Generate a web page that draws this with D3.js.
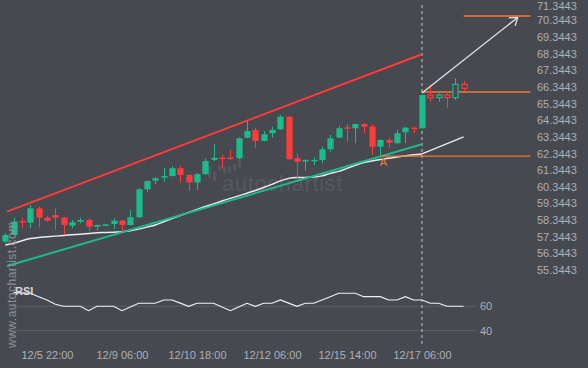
<!DOCTYPE html>
<html><head><meta charset="utf-8">
<script src="https://cdn.jsdelivr.net/npm/d3@7"></script>
<style>
html,body{margin:0;padding:0;background:#46494f;}
svg{display:block;}
</style></head>
<body>
<svg id="c" width="588" height="368"></svg>
<script>
// ---- data ----
const openV  = [57.05,57.45,58.29,58.19,59.05,58.49,58.65,58.49,58.01,58.25,58.35,57.95,58.01,58.11,58.31,58.05,58.51,60.19,60.71,60.92,60.99,61.46,61.05,60.61,61.11,61.96,62.10,62.10,62.06,63.30,63.76,63.10,63.56,63.80,64.56,62.06,61.89,61.91,61.96,62.60,63.30,63.92,63.86,64.12,63.96,62.75,63.16,62.96,63.62,63.90,63.86,65.86,65.70,65.86,65.70,66.50];
const closeV = [57.45,58.25,58.21,59.05,58.49,58.31,58.49,58.05,58.21,58.35,57.95,58.05,58.09,58.31,58.05,58.51,60.19,60.69,60.86,60.99,61.46,61.05,60.61,61.11,61.89,62.09,62.05,62.05,63.26,63.70,63.10,63.50,63.76,64.56,62.00,61.85,61.96,61.96,62.60,63.26,63.86,63.86,64.12,63.96,62.75,63.16,62.99,63.56,63.90,63.86,65.86,65.70,65.86,65.70,66.50,66.26];
const highV  = [57.57,58.49,58.49,59.25,59.15,58.59,59.05,58.53,58.35,58.49,58.45,58.09,58.11,58.45,58.35,58.95,60.25,60.71,60.95,61.46,61.59,61.59,61.11,61.17,62.06,62.90,62.26,62.56,63.30,64.30,63.90,63.70,63.96,64.66,64.60,62.36,62.00,62.12,62.75,63.46,64.00,64.12,64.14,64.15,64.10,63.19,63.30,63.76,63.94,63.96,65.89,66.46,65.96,66.10,66.86,66.70];
const lowV   = [56.97,57.42,57.87,57.85,57.91,58.23,57.75,57.49,57.85,58.15,57.65,57.71,57.99,57.81,57.65,58.01,58.49,60.05,60.49,60.65,60.97,60.61,60.09,60.15,61.05,61.89,61.46,61.96,62.01,63.26,62.69,63.07,63.28,63.76,61.96,60.75,61.31,61.65,61.76,62.45,63.28,63.05,62.96,63.56,62.26,62.15,62.69,62.95,62.96,63.56,63.85,65.46,65.46,65.10,65.56,66.06];
const maV = [56.85,56.95,57.10,57.24,57.30,57.34,57.38,57.42,57.46,57.50,57.54,57.58,57.60,57.62,57.64,57.70,57.80,57.92,58.05,58.24,58.43,58.62,58.81,58.99,59.16,59.32,59.49,59.65,59.80,59.96,60.12,60.30,60.49,60.70,60.85,60.90,60.91,60.93,61.00,61.15,61.27,61.45,61.63,61.80,61.90,61.98,62.06,62.13,62.20,62.27,62.32];
const rsiV = [null,71.2,71.0,70.7,67.9,65.2,61.6,60,60,60,56.4,60,60,60,56.4,59.5,62.5,62.5,62.5,65.2,65.2,62.6,60,62.5,62.5,62.5,59.5,56.4,59.5,62.5,60,62.5,62.5,65.2,62.6,60,62.5,62.5,65.2,67.9,70.7,70.7,70.7,67.9,67.9,67.9,65.2,65.2,67.9,65.2,65.2,62.5,62.5,60,60,60];
const priceTicks = [55.3443,56.3443,57.3443,58.3443,59.3443,60.3443,61.3443,62.3443,63.3443,64.3443,65.3443,66.3443,67.3443,68.3443,69.3443,70.3443,71.3443];
const timeTickIdx = [5,14,23,32,41,50];
const timeTickLabels = ["12/5 22:00","12/9 06:00","12/10 18:00","12/12 06:00","12/15 14:00","12/17 06:00"];
const rsiTicks = [60,40];
const resistanceLine = [[0.2,58.85],[50,68.31]];
const supportLine = [[0.2,55.58],[50,62.90]];
const projectionLine = [[50,62.32],[55,63.35]];
const forecastArrow = [[50,65.98],[61.5,70.53]];
const levels = [{from:55,to:63,p:70.61},{from:50,to:63,p:66.04},{from:45,to:63,p:62.19}];
const nowIdx = 50;

// ---- scales ----
const svg = d3.select("#c");
const x = d3.scaleLinear().domain([0,63]).range([5.3,530.3]);
const y = d3.scaleLinear().domain([55.3443,71.3443]).range([270,3.76]);
const yr = d3.scaleLinear().domain([40,60]).range([330.7,306.3]);

const GREEN = "#1dbb8a", RED = "#ff3b3b", ORANGE = "#f5793a", BG = "#46494f";

// watermark logo + text
const logoH = [12,10,6,7,7,6,9];
const logoG = svg.append("g");
logoH.forEach((h,k)=>{
  logoG.append("rect").attr("x",208+k*5).attr("y",[166,171,165,167,166,164,159][k]).attr("width",3.2).attr("height",h).attr("rx",1.5).attr("fill","#55585e");
});
svg.append("text").attr("x",222).attr("y",191).attr("font-family","Liberation Sans, Arial, sans-serif")
  .attr("font-size",22).attr("fill","#55585e").attr("letter-spacing",0.6).text("autochartist");

// RSI grid lines
svg.selectAll(".rg").data(rsiTicks).enter().append("line")
  .attr("x1",7).attr("x2",477).attr("y1",d=>yr(d)).attr("y2",d=>yr(d))
  .attr("stroke","#5d6067").attr("stroke-width",1);
svg.selectAll(".rl").data(rsiTicks).enter().append("text")
  .attr("x",480).attr("y",d=>yr(d)).attr("dy","0.35em")
  .attr("font-family","Liberation Sans, Arial, sans-serif").attr("font-size",11).attr("fill","#aeb0b5").text(d=>d);

// RSI line
svg.append("path").datum(rsiV.map((v,i)=>[i,v]))
  .attr("d",d3.line().defined(d=>d[1]!==null).x(d=>x(d[0])).y(d=>yr(d[1])))
  .attr("fill","none").attr("stroke","#f2f2f2").attr("stroke-width",1.1);
svg.append("text").attr("x",15).attr("y",291).attr("dy","0.35em")
  .attr("font-family","Liberation Sans, Arial, sans-serif").attr("font-size",11).attr("font-weight","bold")
  .attr("fill","#d8d8d8").text("RSI");

// now dashed line
svg.append("line").attr("x1",x(nowIdx)).attr("x2",x(nowIdx)).attr("y1",5).attr("y2",347)
  .attr("stroke","#c8c8c8").attr("stroke-width",1).attr("stroke-dasharray","3,3");

// MA line
svg.append("path").datum(maV.map((v,i)=>[i,v]))
  .attr("d",d3.line().curve(d3.curveMonotoneX).x(d=>x(d[0])).y(d=>y(d[1])))
  .attr("fill","none").attr("stroke","#ececec").attr("stroke-width",1.5);
svg.append("path").datum(projectionLine)
  .attr("d",d3.line().x(d=>x(d[0])).y(d=>y(d[1])))
  .attr("fill","none").attr("stroke","#ececec").attr("stroke-width",1.3);

// channel lines
const ln = d3.line().x(d=>x(d[0])).y(d=>y(d[1]));
svg.append("path").datum(resistanceLine).attr("d",ln).attr("stroke",RED).attr("stroke-width",2).attr("fill","none");
svg.append("path").datum(supportLine).attr("d",ln).attr("stroke",GREEN).attr("stroke-width",2).attr("fill","none");

// levels
svg.selectAll(".lv").data(levels).enter().append("line")
  .attr("x1",d=>x(d.from)).attr("x2",d=>x(d.to)).attr("y1",d=>y(d.p)).attr("y2",d=>y(d.p))
  .attr("stroke",ORANGE).attr("stroke-width",1.4);
svg.append("text").attr("x",x(levels[2].from)+3).attr("y",y(levels[2].p)+10)
  .attr("text-anchor","middle").attr("font-family","Liberation Sans, Arial, sans-serif").attr("font-size",11)
  .attr("fill",ORANGE).text("A");

// candles
const cw = 6.2;
const candles = openV.map((o,i)=>({i,o,c:closeV[i],h:highV[i],l:lowV[i]}));
const cg = svg.append("g");
candles.forEach(d=>{
  const col = d.c>=d.o ? GREEN : RED;
  const hollow = d.i>nowIdx;
  const cx = Math.round(x(d.i))+0.5;
  const top = y(Math.max(d.o,d.c)), bot = y(Math.min(d.o,d.c));
  if(hollow){
    cg.append("line").attr("x1",cx).attr("x2",cx).attr("y1",y(d.h)).attr("y2",top).attr("stroke",col).attr("stroke-width",1);
    cg.append("line").attr("x1",cx).attr("x2",cx).attr("y1",bot).attr("y2",y(d.l)).attr("stroke",col).attr("stroke-width",1);
    cg.append("rect").attr("x",cx-cw/2+0.5).attr("y",top).attr("width",cw-1).attr("height",Math.max(1,bot-top))
      .attr("fill",BG).attr("stroke",col).attr("stroke-width",1.2);
  } else {
    cg.append("line").attr("x1",cx).attr("x2",cx).attr("y1",y(d.h)).attr("y2",y(d.l)).attr("stroke",col).attr("stroke-width",1);
    cg.append("rect").attr("x",cx-cw/2).attr("y",top).attr("width",cw).attr("height",Math.max(1.5,bot-top)).attr("fill",col);
  }
});

// forecast arrow
const a0 = [x(forecastArrow[0][0]),y(forecastArrow[0][1])], a1=[x(forecastArrow[1][0]),y(forecastArrow[1][1])];
svg.append("line").attr("x1",a0[0]).attr("y1",a0[1]).attr("x2",a1[0]).attr("y2",a1[1]).attr("stroke","#e6e6e6").attr("stroke-width",1.3);
const ang = Math.atan2(a1[1]-a0[1],a1[0]-a0[0]);
[-0.6,0.6].forEach(da=>{
  const aa = ang+Math.PI+da;
  svg.append("line").attr("x1",a1[0]).attr("y1",a1[1]).attr("x2",a1[0]+9*Math.cos(aa)).attr("y2",a1[1]+9*Math.sin(aa))
    .attr("stroke","#e6e6e6").attr("stroke-width",1.3);
});

// price axis
const yAxis = svg.append("g").attr("transform","translate(533,0)")
  .call(d3.axisRight(y).tickValues(priceTicks).tickSize(0).tickPadding(4).tickFormat(d3.format(".4f")));
yAxis.select(".domain").remove();
yAxis.selectAll("text").attr("font-family","Liberation Sans, Arial, sans-serif").attr("font-size",11).attr("fill","#aeb0b5");
// keep the top label inside the picture
yAxis.selectAll(".tick").filter(d=>y(d)<6).select("text").attr("dy","0.48em");

// time axis
const xAxis = svg.append("g").attr("transform","translate(0,348)")
  .call(d3.axisBottom(x).tickValues(timeTickIdx).tickSize(0).tickPadding(3).tickFormat((d,k)=>timeTickLabels[k]));
xAxis.select(".domain").remove();
xAxis.selectAll("text").attr("font-family","Liberation Sans, Arial, sans-serif").attr("font-size",11).attr("fill","#aeb0b5");

// vertical site text
svg.append("text").attr("transform","translate(16,348) rotate(-90)")
  .attr("font-family","Liberation Sans, Arial, sans-serif").attr("font-size",12).attr("letter-spacing",0.5)
  .attr("fill","#8d9096").text("www.autochartist.com");
</script>
</body></html>
